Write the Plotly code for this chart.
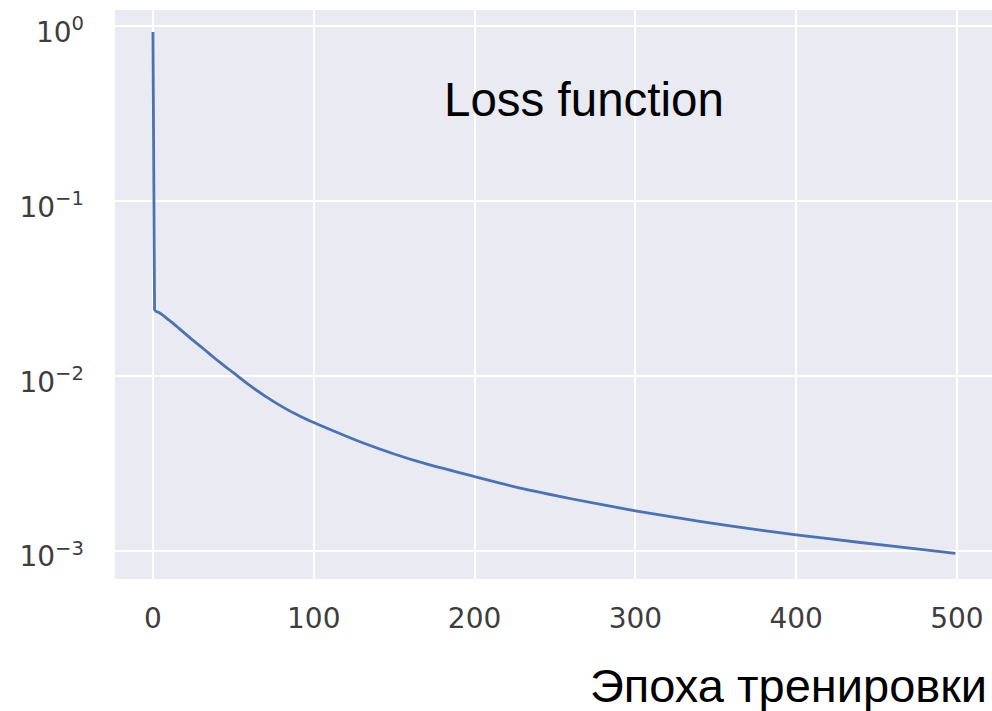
import plotly.graph_objects as go

# Data (loss per training epoch)
epochs = [0, 1, 4, 8, 12, 16, 20, 25, 30, 35, 40, 45, 50, 60, 70, 80, 90, 100,
          115, 130, 150, 170, 200, 230, 260, 300, 340, 380, 420, 460, 499]
loss = [0.92, 0.0235, 0.0229, 0.0215, 0.0201, 0.0187, 0.0174, 0.0159, 0.0146, 0.01336,
        0.01225, 0.01127, 0.0104, 0.00882, 0.00762, 0.00668, 0.00596, 0.0054,
        0.00472, 0.00415, 0.00357, 0.00313, 0.00265, 0.00226, 0.00198, 0.00169,
        0.00147, 0.00130, 0.00117, 0.00106, 0.000966]

x_ticks = [0, 100, 200, 300, 400, 500]
y_ticks = [1e-3, 1e-2, 1e-1, 1e0]
y_ticktext = ["10<sup>−3</sup>", "10<sup>−2</sup>", "10<sup>−1</sup>", "10<sup>0</sup>"]

W, H = 992, 711
L, R, T, B = 115, 0, 10, 132

line_style = dict(color="#4C72B0", width=2.8)

fig = go.Figure()
# initial sharp drop (straight segment)
fig.add_trace(go.Scatter(x=epochs[:2], y=loss[:2], mode="lines",
                         line=line_style, showlegend=False))
# smooth decay afterwards
fig.add_trace(go.Scatter(x=epochs[1:], y=loss[1:], mode="lines",
                         line=dict(**line_style, shape="spline", smoothing=0.6),
                         showlegend=False))

tick_font = dict(family="DejaVu Sans", size=28, color="#3d3d3d")

fig.update_layout(
    width=W, height=H,
    margin=dict(l=L, r=R, t=T, b=B),
    paper_bgcolor="white",
    plot_bgcolor="#EAEAF2",
    xaxis=dict(range=[-23.6, 521.8], tickvals=x_ticks, ticktext=[str(v) for v in x_ticks],
               showgrid=True, gridcolor="white", gridwidth=2, zeroline=False,
               showline=False, ticks="", tickfont=tick_font, ticklabelstandoff=20),
    yaxis=dict(type="log", range=[-3.162, 0.09], tickvals=y_ticks, ticktext=y_ticktext,
               showgrid=True, gridcolor="white", gridwidth=2, zeroline=False,
               showline=False, ticks="", tickfont=tick_font, ticklabelstandoff=30,
               ticklabelshift=6),
    annotations=[
        dict(text="Loss function", xref="paper", yref="paper", x=0.535, y=0.842,
             xanchor="center", yanchor="middle", showarrow=False,
             font=dict(family="Liberation Sans", size=47.5, color="black")),
        dict(text="Эпоха тренировки", xref="paper", yref="paper", x=0.768, y=-0.187,
             xanchor="center", yanchor="middle", showarrow=False,
             font=dict(family="Liberation Sans", size=47, color="black")),
    ],
)

fig.write_html("out.html")
